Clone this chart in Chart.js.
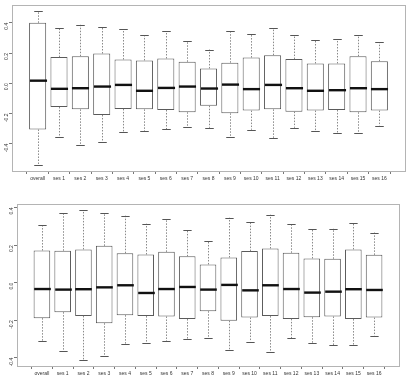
<!DOCTYPE html>
<html>
<head>
<meta charset="utf-8">
<script src="https://cdn.jsdelivr.net/npm/chart.js@4.4.1/dist/chart.umd.min.js"></script>
<style>
  html, body { margin: 0; padding: 0; background: #fff; }
  #wrap { position: relative; width: 409px; height: 382px; overflow: hidden; }
  canvas { position: absolute; left: 0; }
</style>
</head>
<body>
<div id="wrap">
  <canvas id="top" width="409" height="190" style="top:0"></canvas>
  <canvas id="bottom" width="409" height="192" style="top:190px"></canvas>
</div>
<script>
// ---- Data ----
const categories = ["overall","ses 1","ses 2","ses 3","ses 4","ses 5","ses 6","ses 7","ses 8",
  "ses 9","ses 10","ses 11","ses 12","ses 13","ses 14","ses 15","ses 16"];

// Top panel
const topMin    = [-0.540,-0.358,-0.407,-0.387,-0.326,-0.319,-0.306,-0.293,-0.295,-0.356,-0.308,-0.365,-0.295,-0.319,-0.328,-0.332,-0.282];
const topQ1     = [-0.306,-0.157,-0.173,-0.210,-0.170,-0.173,-0.177,-0.192,-0.149,-0.199,-0.181,-0.173,-0.188,-0.181,-0.177,-0.192,-0.181];
const topMedian = [ 0.017,-0.037,-0.033,-0.022,-0.011,-0.050,-0.031,-0.022,-0.035,-0.009,-0.039,-0.011,-0.033,-0.050,-0.046,-0.033,-0.039];
const topQ3     = [ 0.400, 0.173, 0.179, 0.197, 0.157, 0.151, 0.164, 0.142, 0.098, 0.136, 0.170, 0.186, 0.160, 0.131, 0.131, 0.179, 0.146];
const topMax    = [ 0.477, 0.369, 0.387, 0.374, 0.356, 0.317, 0.343, 0.280, 0.223, 0.345, 0.323, 0.363, 0.317, 0.284, 0.291, 0.319, 0.271];

// Bottom panel
const botMin    = [-0.309,-0.362,-0.412,-0.390,-0.329,-0.323,-0.311,-0.299,-0.297,-0.360,-0.314,-0.371,-0.297,-0.322,-0.332,-0.332,-0.283];
const botQ1     = [-0.189,-0.157,-0.177,-0.216,-0.173,-0.178,-0.180,-0.194,-0.152,-0.203,-0.186,-0.178,-0.193,-0.184,-0.180,-0.194,-0.186];
const botMedian = [-0.034,-0.037,-0.035,-0.025,-0.014,-0.055,-0.034,-0.023,-0.037,-0.012,-0.041,-0.014,-0.034,-0.053,-0.048,-0.035,-0.039];
const botQ3     = [ 0.171, 0.170, 0.177, 0.196, 0.157, 0.150, 0.164, 0.140, 0.097, 0.134, 0.168, 0.182, 0.159, 0.129, 0.127, 0.177, 0.148];
const botMax    = [ 0.307, 0.369, 0.387, 0.369, 0.357, 0.314, 0.339, 0.279, 0.224, 0.346, 0.323, 0.362, 0.313, 0.284, 0.288, 0.318, 0.267];

const yTickValues = [-0.4, -0.2, 0.0, 0.2, 0.4];

// ---- Drawing ----
const BOX_W = 0.8;

const framePlugin = {
  id: 'frame',
  beforeDatasetsDraw(chart) {
    const a = chart.chartArea, ctx = chart.ctx;
    ctx.save();
    ctx.strokeStyle = '#b4b4b4';
    ctx.lineWidth = 1;
    ctx.strokeRect(Math.round(a.left) + 0.5, Math.round(a.top) + 0.5,
                   Math.round(a.right - a.left), Math.round(a.bottom - a.top));
    ctx.restore();
  }
};

const boxPlugin = {
  id: 'boxExtras',
  afterDatasetsDraw(chart, args, opts) {
    const xs = chart.scales.x, ys = chart.scales.y, ctx = chart.ctx;
    const s = opts.stats;
    const hw = (xs.getPixelForValue(1 + BOX_W / 2) - xs.getPixelForValue(1)) ;
    ctx.save();
    for (let i = 0; i < s.min.length; i++) {
      const x = Math.round(xs.getPixelForValue(i + 1)) + 0.5;
      const yMin = ys.getPixelForValue(s.min[i]);
      const yQ1 = ys.getPixelForValue(s.q1[i]);
      const yQ3 = ys.getPixelForValue(s.q3[i]);
      const yMax = ys.getPixelForValue(s.max[i]);
      const yMed = ys.getPixelForValue(s.med[i]);
      // whiskers (dashed)
      ctx.strokeStyle = '#8a8a8a';
      ctx.lineWidth = 1;
      ctx.setLineDash([1.5, 1.5]);
      ctx.beginPath();
      ctx.moveTo(x, yQ3); ctx.lineTo(x, yMax);
      ctx.moveTo(x, yQ1); ctx.lineTo(x, yMin);
      ctx.stroke();
      // staples
      ctx.setLineDash([]);
      ctx.strokeStyle = '#555';
      ctx.beginPath();
      ctx.moveTo(x - hw / 2, Math.round(yMax) + 0.5); ctx.lineTo(x + hw / 2, Math.round(yMax) + 0.5);
      ctx.moveTo(x - hw / 2, Math.round(yMin) + 0.5); ctx.lineTo(x + hw / 2, Math.round(yMin) + 0.5);
      ctx.stroke();
      // median
      ctx.strokeStyle = '#111';
      ctx.lineWidth = 2.4;
      ctx.beginPath();
      ctx.moveTo(x - hw, yMed); ctx.lineTo(x + hw, yMed);
      ctx.stroke();
    }
    ctx.restore();
  }
};

function makeChart(id, stats, yMin, yMax, pad, yWidth, xHeight) {
  const boxes = categories.map((c, i) => ({ x: i + 1, y: [stats.q1[i], stats.q3[i]] }));
  return new Chart(document.getElementById(id), {
    type: 'bar',
    data: {
      datasets: [{
        data: boxes,
        backgroundColor: '#ffffff',
        borderColor: '#5a5a5a',
        borderWidth: 1,
        borderSkipped: false,
        barPercentage: BOX_W,
        categoryPercentage: 1.0
      }]
    },
    options: {
      responsive: false,
      animation: false,
      devicePixelRatio: 1,
      layout: { padding: pad },
      plugins: {
        legend: { display: false },
        tooltip: { enabled: false },
        boxExtras: { stats }
      },
      scales: {
        x: {
          type: 'linear',
          min: -0.2,
          max: 18.2,
          offset: false,
          border: { display: false },
          grid: { display: true, drawOnChartArea: false, drawTicks: true, tickLength: 3, color: '#777' },
          afterBuildTicks: (scale) => { scale.ticks = categories.map((c, i) => ({ value: i + 1 })); },
          afterFit: (scale) => { scale.height = xHeight; },
          ticks: {
            autoSkip: false,
            maxRotation: 0,
            minRotation: 0,
            padding: 2,
            color: '#333',
            font: { family: 'Liberation Sans, Arial, sans-serif', size: 5 },
            callback: (v) => categories[Math.round(v) - 1] || ''
          }
        },
        y: {
          type: 'linear',
          min: yMin,
          max: yMax,
          border: { display: false },
          grid: { display: true, drawOnChartArea: false, drawTicks: true, tickLength: 3, color: '#777' },
          afterBuildTicks: (scale) => { scale.ticks = yTickValues.map(v => ({ value: v })); },
          afterFit: (scale) => { scale.width = yWidth; },
          ticks: {
            minRotation: 90,
            maxRotation: 90,
            padding: 2,
            color: '#333',
            font: { family: 'Liberation Sans, Arial, sans-serif', size: 5 },
            callback: (v) => v.toFixed(1)
          }
        }
      }
    },
    plugins: [framePlugin, boxPlugin]
  });
}

makeChart('top',
  { min: topMin, q1: topQ1, med: topMedian, q3: topQ3, max: topMax },
  -0.581, 0.518, { top: 3, right: 4, left: 0, bottom: 0 }, 12, 19);

makeChart('bottom',
  { min: botMin, q1: botQ1, med: botMedian, q3: botQ3, max: botMax },
  -0.444, 0.419, { top: 14, right: 10, left: 0, bottom: 0 }, 17, 16);
</script>
</body>
</html>
